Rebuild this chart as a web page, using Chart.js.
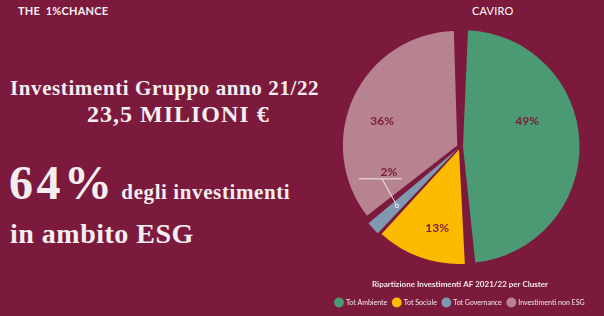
<!DOCTYPE html>
<html>
<head>
<meta charset="utf-8">
<script src="https://cdn.jsdelivr.net/npm/chart.js@4"></script>
<style>
  html, body { margin: 0; padding: 0; }
  body { width: 604px; height: 316px; background: #7b1a3c; position: relative; overflow: hidden; }
  .hd { position: absolute; color: #f7f0f3; font-family: Lato, sans-serif; }
  .serif { position: absolute; color: #f5eef0; font-family: "Liberation Serif", serif; font-weight: bold; white-space: nowrap; }
  #box { position: absolute; left: 316px; top: 0; width: 288px; height: 316px; }
</style>
</head>
<body>
<div class="hd" style="left:18px;top:4px;font-size:11px;font-weight:bold;letter-spacing:0.2px;">THE&nbsp; 1%CHANCE</div>
<div class="hd" style="left:472px;top:4px;font-size:11px;font-weight:400;letter-spacing:0.2px;color:#ffffff;">CAVIRO</div>

<div class="serif" style="left:10px;top:76px;font-size:21px;letter-spacing:0.6px;">Investimenti Gruppo anno 21/22</div>
<div class="serif" style="left:87px;top:101px;font-size:24px;letter-spacing:1px;">23,5 MILIONI €</div>
<div class="serif" style="left:9px;top:155px;font-size:48px;letter-spacing:3.5px;">64%<span style="font-size:21px;letter-spacing:0.6px;"> degli investimenti</span></div>
<div class="serif" style="left:10px;top:218px;font-size:28px;letter-spacing:0.5px;">in ambito ESG</div>

<div id="box"><canvas id="pie"></canvas></div>

<script>
// dati del grafico
const categorie = ['Tot Ambiente', 'Tot Sociale', 'Tot Governance', 'Investimenti non ESG'];
const percentuali = [49, 13, 2, 36];
const colori = ['#4c9a74', '#fdbb00', '#7f9ab0', '#b88390'];
const titolo = 'Ripartizione Investimenti AF 2021/22 per Cluster';

const sfondo = '#7b1a3c';
// spostamento angolare e raggio delle etichette, fetta per fetta
const spostaAngolo = [-0.33, -0.07, 0, -0.12];
const raggioEtichetta = [0.64, 0.75, 0.77, 0.73];

// etichette percentuali disegnate sopra le fette
const etichette = {
  id: 'etichette',
  afterDatasetsDraw(chart) {
    const ctx = chart.ctx;
    const meta = chart.getDatasetMeta(0);
    ctx.save();
    ctx.font = 'bold 12px Lato, sans-serif';
    ctx.textAlign = 'center';
    ctx.textBaseline = 'middle';
    meta.data.forEach((arc, i) => {
      const p = arc.getProps(['x', 'y', 'startAngle', 'endAngle', 'outerRadius'], true);
      const testo = percentuali[i] + '%';
      const mid = (p.startAngle + p.endAngle) / 2 + spostaAngolo[i];
      const r = p.outerRadius * raggioEtichetta[i];
      const ax = p.x + Math.cos(mid) * r;
      const ay = p.y + Math.sin(mid) * r;
      if (percentuali[i] < 5) {
        // fetta piccola: etichetta esterna con linea guida
        ctx.strokeStyle = '#f3e9ed';
        ctx.lineWidth = 1;
        ctx.beginPath();
        ctx.moveTo(ax, ay);
        ctx.lineTo(ax - 15, ay - 27);
        ctx.moveTo(ax - 38, ay - 27);
        ctx.lineTo(ax + 5, ay - 27);
        ctx.stroke();
        ctx.beginPath();
        ctx.arc(ax, ay, 1.8, 0, Math.PI * 2);
        ctx.fillStyle = colori[i];
        ctx.fill();
        ctx.stroke();
        ctx.fillStyle = sfondo;
        ctx.fillText(testo, ax - 8, ay - 34);
        return;
      }
      ctx.fillStyle = sfondo;
      ctx.fillText(testo, ax, ay);
    });
    ctx.restore();
  }
};

new Chart(document.getElementById('pie'), {
  type: 'pie',
  data: {
    labels: categorie,
    datasets: [{
      data: percentuali,
      backgroundColor: colori,
      borderWidth: 0,
      spacing: 3,
      offset: 12,
      hoverOffset: 12
    }]
  },
  options: {
    responsive: true,
    maintainAspectRatio: false,
    animation: false,
    layout: { padding: { top: 27, bottom: 0 } },
    plugins: {
      tooltip: { enabled: false },
      title: {
        display: true,
        text: titolo,
        position: 'bottom',
        weight: 500,
        color: '#f3e9ed',
        font: { family: 'Lato, sans-serif', size: 8, weight: 'bold' },
        padding: { top: 13, bottom: 4 }
      },
      legend: {
        position: 'bottom',
        labels: {
          color: '#f3e9ed',
          font: { family: 'Lato, sans-serif', size: 7 },
          usePointStyle: true,
          pointStyle: 'circle',
          boxWidth: 9,
          boxHeight: 9,
          padding: 6
        }
      }
    }
  },
  plugins: [etichette]
});
</script>
</body>
</html>
